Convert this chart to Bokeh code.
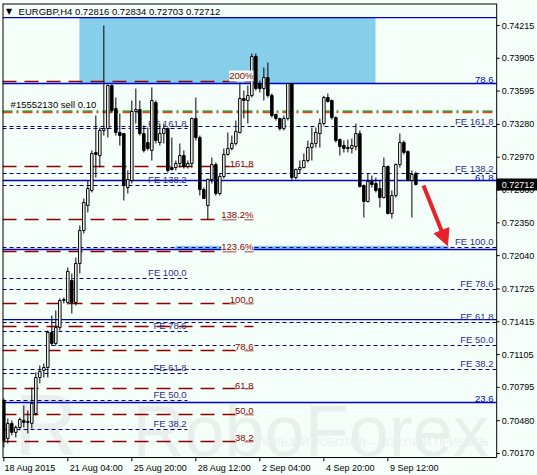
from bokeh.plotting import figure
from bokeh.models import (ColumnDataSource, FixedTicker, Range1d, Label, Arrow, NormalHead)
from bokeh.core.properties import value
from bokeh.embed import file_html
from bokeh.resources import INLINE

# ---------------- data (EURGBP H4, 18 Aug 2015 12:00 onwards) ----------------
bar_open = [0.70671, 0.70312, 0.70454, 0.70369, 0.70416, 0.70482, 0.70463, 0.70454, 0.70548, 0.70888,
            0.70955, 0.70983, 0.71314, 0.71210, 0.71361, 0.71616, 0.71597, 0.71805, 0.71597, 0.71966,
            0.72278, 0.72514, 0.72656, 0.73015, 0.72986, 0.73223, 0.73241, 0.73648, 0.73430, 0.73204,
            0.73194, 0.72684, 0.72750, 0.73402, 0.73421, 0.73194, 0.73109, 0.73034, 0.73487, 0.73109,
            0.73194, 0.73241, 0.72873, 0.72873, 0.72911, 0.72986, 0.72882, 0.72911, 0.73336, 0.73156,
            0.72665, 0.72514, 0.72760, 0.72901, 0.72627, 0.72788, 0.72996, 0.73053, 0.73100, 0.73204,
            0.73525, 0.73506, 0.73553, 0.73922, 0.73667, 0.73619, 0.73723, 0.73553, 0.73374, 0.73336,
            0.73241, 0.73336, 0.73667, 0.72778, 0.72854, 0.72873, 0.72939, 0.73062, 0.73100, 0.73194,
            0.73289, 0.73534, 0.73506, 0.73345, 0.73137, 0.73081, 0.73062, 0.73053, 0.73071, 0.73194,
            0.72703, 0.72552, 0.72741, 0.72722, 0.72674, 0.72589, 0.72882, 0.72438, 0.72608, 0.72901,
            0.73109, 0.73024, 0.72750, 0.72816]
bar_high = [0.70690, 0.70501, 0.70482, 0.70435, 0.70510, 0.70624, 0.70577, 0.70794, 0.70936, 0.71002,
            0.71021, 0.71333, 0.71474, 0.71522, 0.71635, 0.71644, 0.71928, 0.71871, 0.72022, 0.72325,
            0.72580, 0.72750, 0.73034, 0.73364, 0.73251, 0.74215, 0.73657, 0.73657, 0.73534, 0.73383,
            0.73200, 0.72845, 0.73506, 0.73619, 0.73506, 0.73270, 0.73251, 0.73629, 0.73506, 0.73289,
            0.73289, 0.73251, 0.73156, 0.72939, 0.73100, 0.73034, 0.72939, 0.73345, 0.73534, 0.73175,
            0.72684, 0.72769, 0.72967, 0.72920, 0.72816, 0.73053, 0.73204, 0.73175, 0.73317, 0.73676,
            0.73600, 0.73648, 0.73950, 0.73950, 0.73695, 0.73818, 0.73865, 0.73572, 0.73383, 0.73345,
            0.73364, 0.73667, 0.73667, 0.72863, 0.72939, 0.73005, 0.73128, 0.73251, 0.73251, 0.73336,
            0.73550, 0.73572, 0.73515, 0.73355, 0.73147, 0.73128, 0.73137, 0.73147, 0.73289, 0.73223,
            0.72712, 0.72816, 0.72797, 0.72778, 0.72750, 0.72967, 0.72892, 0.72656, 0.72911, 0.73194,
            0.73128, 0.73034, 0.72845, 0.72834]
bar_low = [0.70227, 0.70265, 0.70340, 0.70321, 0.70388, 0.70416, 0.70359, 0.70406, 0.70529, 0.70832,
           0.70888, 0.70888, 0.71191, 0.71191, 0.71333, 0.71588, 0.71578, 0.71493, 0.71569, 0.71871,
           0.72249, 0.72448, 0.72637, 0.72778, 0.72873, 0.73175, 0.73156, 0.73393, 0.73175, 0.73081,
           0.72561, 0.72627, 0.72722, 0.73289, 0.73175, 0.73015, 0.73034, 0.72939, 0.73100, 0.73081,
           0.73100, 0.72826, 0.72845, 0.72845, 0.72873, 0.72863, 0.72863, 0.72873, 0.73128, 0.72608,
           0.72580, 0.72381, 0.72722, 0.72608, 0.72608, 0.72769, 0.72986, 0.73034, 0.73081, 0.73194,
           0.73336, 0.73289, 0.73534, 0.73600, 0.73582, 0.73506, 0.73534, 0.73345, 0.73317, 0.73223,
           0.73223, 0.73317, 0.72750, 0.72760, 0.72816, 0.72863, 0.72920, 0.72939, 0.73062, 0.73062,
           0.73270, 0.73487, 0.73326, 0.73109, 0.72986, 0.73015, 0.73015, 0.73005, 0.73034, 0.72684,
           0.72400, 0.72542, 0.72684, 0.72637, 0.72495, 0.72580, 0.72429, 0.72391, 0.72589, 0.72873,
           0.72996, 0.72741, 0.72400, 0.72703]
bar_close = [0.70293, 0.70454, 0.70369, 0.70416, 0.70491, 0.70463, 0.70473, 0.70643, 0.70888, 0.70945,
             0.70983, 0.71314, 0.71210, 0.71361, 0.71616, 0.71625, 0.71890, 0.71597, 0.71966, 0.72278,
             0.72542, 0.72674, 0.73005, 0.72996, 0.73223, 0.73241, 0.73648, 0.73412, 0.73204, 0.73175,
             0.72703, 0.72759, 0.73402, 0.73421, 0.73194, 0.73034, 0.73052, 0.73506, 0.73128, 0.73194,
             0.73241, 0.72845, 0.72854, 0.72911, 0.72986, 0.72882, 0.72911, 0.73336, 0.73156, 0.72665,
             0.72580, 0.72760, 0.72901, 0.72627, 0.72788, 0.72996, 0.73053, 0.73100, 0.73213, 0.73525,
             0.73506, 0.73553, 0.73922, 0.73619, 0.73619, 0.73723, 0.73553, 0.73364, 0.73336, 0.73241,
             0.73336, 0.73667, 0.72778, 0.72854, 0.72873, 0.72939, 0.73062, 0.73100, 0.73204, 0.73289,
             0.73534, 0.73497, 0.73345, 0.73128, 0.73071, 0.73053, 0.73053, 0.73081, 0.73194, 0.72693,
             0.72552, 0.72741, 0.72712, 0.72656, 0.72589, 0.72882, 0.72438, 0.72608, 0.72901, 0.73109,
             0.73015, 0.72750, 0.72807, 0.72712]

x_tick_bars = [0, 16, 32, 48, 64, 80, 96]
x_tick_labels = ["18 Aug 2015", "21 Aug 04:00", "25 Aug 20:00", "28 Aug 12:00",
                 "2 Sep 04:00", "4 Sep 20:00", "9 Sep 12:00"]
y_ticks = [0.74215, 0.73905, 0.73595, 0.73280, 0.72970, 0.72660, 0.72350,
           0.72040, 0.71725, 0.71415, 0.71105, 0.70795, 0.70480, 0.70170]

# Fibonacci retracement (solid blue)
ret_levels = [0.74290, 0.73667, 0.72750, 0.72098, 0.71436, 0.70652]
ret_labels = ["", "78.6", "61.8", "", "", "23.6"]
# Fibonacci expansion 1 (dark red, dashed)
exp_levels = [0.73686, 0.72882, 0.72381, 0.72079, 0.71588, 0.71370, 0.71144, 0.70784, 0.70539, 0.70284]
exp_labels = ["200%", "161.8", "138.2%", "123.6%", "100.0", "", "78.6", "61.8", "50.0", "38.2"]
# Fibonacci expansion 2 (navy dotted, left part)
fe_left_levels = [0.73241, 0.72703, 0.71824, 0.71323, 0.70926, 0.70671, 0.70397]
fe_left_labels = ["FE 161.8", "FE 138.2", "FE 100.0", "FE 78.6", "FE 61.8", "FE 50.0", "FE 38.2"]
# Fibonacci expansion 3 (navy dotted, full width)
fe_right_levels = [0.73260, 0.72816, 0.72117, 0.71720, 0.71408, 0.71191, 0.70964]
fe_right_labels = ["FE 161.8", "FE 138.2", "FE 100.0", "FE 78.6", "FE 61.8", "FE 50.0", "FE 38.2"]

order_price = 0.73397
order_text = "#15552130 sell 0.10"
last_price = 0.72712
header_text = "EURGBP,H4  0.72816 0.72834 0.72703 0.72712"

# ---------------- figure ----------------
BG = "#F5FFFA"
X0, AX, XR = -0.33, 123.2, 133.4      # chart left edge, price-axis position, right edge of price scale
Y0, Y1 = 0.70132, 0.74423             # chart bottom / top prices
FONT = "Liberation Sans"
FS = "9.5px"
FSA = "9px"
W, H = 537, 475
MB_LEFT, MB_TOP, MB_BOTTOM = 2, 3, 14
px_per_bar = (W - MB_LEFT) / (XR - X0)
price_per_px = (Y1 - Y0) / 454.0
YB = Y0 - 4 * price_per_px            # room for the time-axis tick marks
px_right = 1 / px_per_bar

p = figure(width=W, height=H, x_range=Range1d(X0, XR), y_range=Range1d(YB, Y1),
           output_backend="svg", toolbar_location=None, y_axis_location=None,
           min_border_left=MB_LEFT, min_border_right=0, min_border_top=MB_TOP, min_border_bottom=MB_BOTTOM)
p.background_fill_color = BG
p.border_fill_color = BG
p.outline_line_color = None
p.grid.visible = False

def keep(levels, labels):
    pairs = [(l, s) for l, s in zip(levels, labels) if s]
    return [l for l, _ in pairs], [s for _, s in pairs]

# watermark
wm = "#E8EFED"
p.text(x=[121.2], y=[0.70378], text=["RoboForex"], text_font=value(FONT), text_font_size="72px",
       text_color=wm, text_align="right", text_baseline="alphabetic")
p.text(x=[2.6], y=[0.70440], text=["R"], text_font=value(FONT), text_font_size="88px",
       text_color=wm, text_align="left", text_baseline="alphabetic")
p.text(x=[121.2], y=[0.70274], text=["ИСПОЛЬЗУЙ РОБОТОВ – ПОЛУЧАЙ ПРИБЫЛЬ"], text_font=value(FONT),
       text_font_size="11px", text_color=wm, text_align="right", text_baseline="middle")

# zones
p.quad(left=[18.9], right=[92.9], bottom=[0.73667], top=[0.74290], fill_color="#87CEEB", line_color=None)
p.quad(left=[42.9], right=[111.2], bottom=[0.72098], top=[0.72133], fill_color="#87CEEB", line_color=None)

# horizontal levels
n_ret = len(ret_levels)
p.segment(x0=[X0] * n_ret, x1=[AX] * n_ret, y0=ret_levels, y1=ret_levels, line_color="#0000CD", line_width=1.3)
n_fr = len(fe_right_levels)
p.segment(x0=[X0] * n_fr, x1=[AX] * n_fr, y0=fe_right_levels, y1=fe_right_levels,
          line_color="#000080", line_width=1.1, line_dash="4 3")
n_fl = len(fe_left_levels)
p.segment(x0=[X0] * n_fl, x1=[45.9] * n_fl, y0=fe_left_levels, y1=fe_left_levels,
          line_color="#000080", line_width=1.1, line_dash="4 3")
n_ex = len(exp_levels)
p.segment(x0=[X0] * n_ex, x1=[62.4] * n_ex, y0=exp_levels, y1=exp_levels,
          line_color="#8B0000", line_width=1.5, line_dash="14 8")

# order line
p.segment(x0=[X0], x1=[AX], y0=[order_price + 0.00008], y1=[order_price + 0.00008],
          line_color="#008000", line_width=1.2, line_dash="10 4 2 4")
p.segment(x0=[X0], x1=[AX], y0=[order_price - 0.00004], y1=[order_price - 0.00004],
          line_color="#E04A10", line_width=1.5, line_dash="10 4 2 4")

# labels behind candles
p.text(x=[45.7] * n_fl, y=fe_left_levels, text=fe_left_labels, text_font=value(FONT), text_font_size=FS,
       text_color="#2E2E8A", text_align="right", text_baseline="bottom")
p.text(x=[122.4] * n_fr, y=fe_right_levels, text=fe_right_labels, text_font=value(FONT), text_font_size=FS,
       text_color="#2E2E8A", text_align="right", text_baseline="bottom")
rl, rs = keep(ret_levels, ret_labels)
p.text(x=[122.4] * len(rl), y=rl, text=rs, text_font=value(FONT), text_font_size=FS,
       text_color="#0000CD", text_align="right", text_baseline="bottom")
p.text(x=[1.7], y=[order_price + 0.00018], text=[order_text], text_font=value(FONT), text_font_size=FS,
       text_color="black", text_align="left", text_baseline="bottom")

# candles
idx = list(range(len(bar_close)))
src = ColumnDataSource(dict(
    x=idx,
    high=bar_high, low=bar_low,
    top=[max(o, c) for o, c in zip(bar_open, bar_close)],
    bottom=[min(o, c) for o, c in zip(bar_open, bar_close)],
    fill=["white" if c >= o else "black" for o, c in zip(bar_open, bar_close)],
))
p.segment(x0="x", y0="low", x1="x", y1="high", source=src, line_color="black", line_width=1)
p.vbar(x="x", width=0.62, top="top", bottom="bottom", fill_color="fill", line_color="black",
       line_width=1, source=src)

# red expansion labels (with background)
el, es = keep(exp_levels, exp_labels)
for lv, lb in zip(el, es):
    p.add_layout(Label(x=62.4, y=lv, text=lb, text_font=FONT, text_font_size=FS, text_color="#8B0000",
                       text_align="right", text_baseline="bottom", background_fill_color=BG))

# header
p.add_layout(Label(x=1.3, y=0.74347, text="▼", text_font="DejaVu Sans", text_font_size="8px",
                   text_color="black", text_align="center", text_baseline="middle"))
p.add_layout(Label(x=3.7, y=0.74347, text=header_text, text_font=FONT, text_font_size=FS,
                   text_color="black", text_align="left", text_baseline="middle"))

# arrow
red = "#E8202A"
p.add_layout(Arrow(end=NormalHead(size=16, fill_color=red, line_color=red), x_start=104.9, y_start=0.72703,
                   x_end=110.9, y_end=0.72136, line_color=red, line_width=4))

# ---- chart frame + price scale drawn inside the canvas ----
p.segment(x0=[X0, X0], x1=[AX, X0], y0=[Y1, Y0], y1=[Y1, Y1], line_color="black", line_width=2)
p.segment(x0=[X0, AX], x1=[AX, AX], y0=[Y0, Y0], y1=[Y0, Y1], line_color="black", line_width=1)
n_y = len(y_ticks)
p.segment(x0=[AX] * n_y, x1=[AX + 3 * px_right] * n_y, y0=y_ticks, y1=y_ticks, line_color="black", line_width=1)
p.text(x=[AX + 5 * px_right] * n_y, y=y_ticks, text=["%.5f" % t for t in y_ticks], text_font=value(FONT),
       text_font_size=FSA, text_color="black", text_align="left", text_baseline="middle")
tag_half = 6 * price_per_px
p.quad(left=[AX], right=[XR], bottom=[last_price - tag_half], top=[last_price + tag_half],
       fill_color="black", line_color=None)
p.text(x=[AX + 5 * px_right], y=[last_price], text=["%.5f" % last_price], text_font=value(FONT),
       text_font_size=FSA, text_color="white", text_align="left", text_baseline="middle")

# time-axis tick marks (below the axis line, inside the canvas)
n_x = len(x_tick_bars)
p.segment(x0=x_tick_bars, x1=x_tick_bars, y0=[Y0] * n_x, y1=[YB] * n_x, line_color="black", line_width=1)

# time-axis labels, left-aligned next to each tick
label_pos = [round(t + (len(s) * 4.6 / 2 + 1.0) * px_right, 3) for t, s in zip(x_tick_bars, x_tick_labels)]
p.xaxis.ticker = FixedTicker(ticks=label_pos)
p.xaxis.major_label_overrides = {pos: s for pos, s in zip(label_pos, x_tick_labels)}
p.xaxis.major_label_text_font = FONT
p.xaxis.major_label_text_font_size = FSA
p.xaxis.major_label_text_color = "black"
p.xaxis.major_label_standoff = 1
p.xaxis.major_tick_out = 0
p.xaxis.major_tick_in = 0
p.xaxis.minor_tick_out = 0
p.xaxis.minor_tick_in = 0
p.xaxis.axis_line_color = None

open("out.html", "w").write(file_html(p, INLINE))
